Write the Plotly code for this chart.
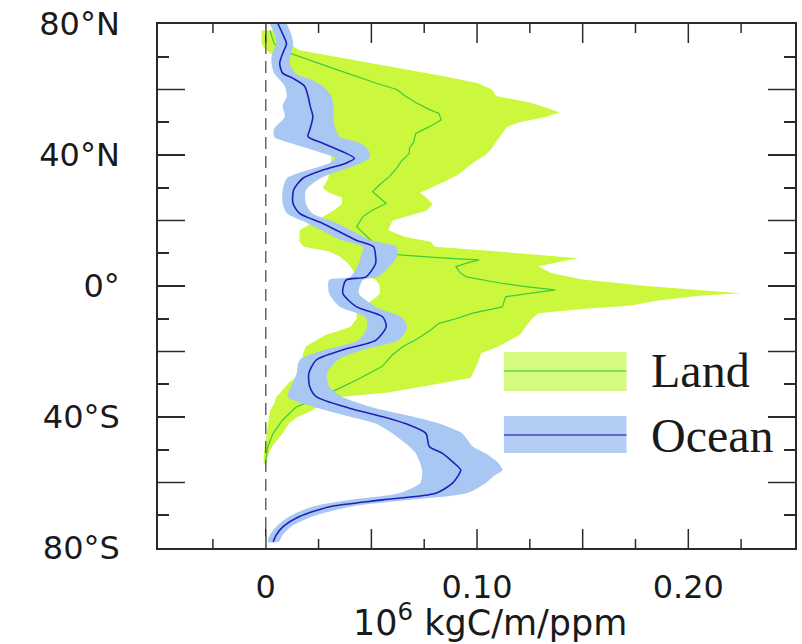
import plotly.graph_objects as go

# ---- Land uptake sensitivity (latitude profile) ----
land_lat = [78, 76, 74, 72, 70, 68, 66, 64, 62, 60, 58, 56, 54, 53, 51.5, 50, 48.5, 46, 44, 42,
            40, 38, 36, 34, 32, 30, 28.5, 27, 25, 23, 21.5, 20, 17, 15, 13.5, 12, 10.5, 9,
            8.5, 7.5, 6, 4, 2, 0, -1, -2.2, -3, -4.5, -6, -7, -8.3, -10, -12.5, -15, -18.5,
            -20.5, -24, -28, -29.5, -31, -32.5, -33.9, -36, -38, -40, -42, -45, -49, -52, -54, -55]
land_upper = [0.006, 0.009, 0.011, 0.016, 0.033, 0.050, 0.068, 0.085, 0.100, 0.107, 0.109, 0.125,
              0.135, 0.139, 0.132, 0.120, 0.114, 0.111, 0.109, 0.107, 0.104, 0.099, 0.095, 0.091,
              0.085, 0.078, 0.073, 0.076, 0.079, 0.076, 0.068, 0.060, 0.058, 0.066, 0.078, 0.080,
              0.110, 0.140, 0.148, 0.140, 0.129, 0.135, 0.150, 0.180, 0.200, 0.225, 0.205, 0.185,
              0.172, 0.150, 0.129, 0.126, 0.123, 0.120, 0.110, 0.102, 0.100, 0.097, 0.085, 0.072,
              0.058, 0.035, 0.026, 0.022, 0.015, 0.011, 0.008, 0.003, 0.001, 0.0003, 0.0]
land_lower = [-0.002, -0.002, -0.002, 0.000, 0.005, 0.006, 0.008, 0.010, 0.012, 0.015, 0.017, 0.020,
              0.022, 0.023, 0.024, 0.024, 0.023, 0.022, 0.025, 0.028, 0.031, 0.031, 0.030, 0.030,
              0.029, 0.027, 0.030, 0.036, 0.036, 0.032, 0.028, 0.024, 0.016, 0.016, 0.016, 0.018,
              0.030, 0.035, 0.036, 0.038, 0.040, 0.042, 0.052, 0.054, 0.054, 0.054, 0.053, 0.050,
              0.046, 0.043, 0.043, 0.043, 0.040, 0.028, 0.019, 0.0177, 0.017, 0.014, 0.011, 0.009,
              0.007, 0.005, 0.004, 0.002, 0.0015, 0.001, 0.0003, -0.0005, -0.001, -0.001, 0.0]

land_mean_lat = [78, 74, 72, 70, 66, 62, 60, 58, 56, 54, 52.7, 50.7, 48.5, 46.6, 44, 42, 40.5, 38,
                 36, 33.4, 31, 28.8, 27, 25.2, 23, 21.2, 18.1, 15, 12, 11, 10, 9.5, 8.5, 8, 7, 5.9,
                 4, 2.8, 1, -0.2, -1.2, -2.2, -3.3, -6.4, -8.3, -10, -11.4, -13.4, -16, -18.5, -21,
                 -24.6, -28.7, -31.8, -34.5, -36.9, -40.9, -45, -49, -53, -55]
land_mean = [0.002, 0.004, 0.0074, 0.016, 0.034, 0.052, 0.062, 0.066, 0.071, 0.077, 0.082, 0.083,
             0.077, 0.071, 0.070, 0.068, 0.068, 0.064, 0.062, 0.0585, 0.054, 0.0506, 0.054, 0.057,
             0.050, 0.046, 0.043, 0.048, 0.053, 0.055, 0.060, 0.063, 0.085, 0.101, 0.095, 0.090,
             0.092, 0.095, 0.110, 0.123, 0.137, 0.125, 0.1135, 0.112, 0.098, 0.090, 0.082, 0.078,
             0.072, 0.065, 0.060, 0.055, 0.043, 0.033, 0.024, 0.0145, 0.008, 0.0035, 0.001, 0.0, 0.0]

# ---- Ocean uptake sensitivity (latitude profile) ----
ocean_lat = [80, 77, 74, 71, 68, 65, 63.4, 61, 58, 55, 51.7, 48, 45.6, 43.6, 41, 39, 37.5, 35.4,
             32.9, 29.3, 25.2, 22.2, 19.1, 14, 12, 9, 6.9, 2.8, 1.8, -2.2, -6.3, -9.4, -12.4,
             -16.5, -19.5, -22.6, -26.7, -30.7, -33.8, -37.3, -39.9, -42, -45, -49, -51.1, -54,
             -56.2, -58, -60.2, -63.3, -65.3, -67.4, -70.4, -73.5, -76, -78.1]
ocean_mean = [0.0058, 0.008, 0.0098, 0.008, 0.0066, 0.008, 0.0129, 0.0184, 0.020, 0.021, 0.0223,
              0.021, 0.020, 0.027, 0.0365, 0.042, 0.038, 0.027, 0.0176, 0.0132, 0.0129, 0.016,
              0.027, 0.0428, 0.051, 0.052, 0.052, 0.0475, 0.038, 0.0365, 0.0428, 0.0553, 0.057,
              0.0522, 0.0365, 0.0239, 0.0204, 0.0208, 0.0239, 0.0396, 0.0553, 0.066, 0.0758,
              0.0774, 0.0836, 0.089, 0.0923, 0.091, 0.0884, 0.0805, 0.0553, 0.0302, 0.016,
              0.0082, 0.005, 0.0035]
ocean_lower = [0.002, 0.004, 0.005, 0.003, 0.0027, 0.004, 0.006, 0.009, 0.010, 0.008, 0.009, 0.004,
               0.004, 0.012, 0.025, 0.033, 0.030, 0.020, 0.010, 0.008, 0.008, 0.010, 0.020, 0.036,
               0.046, 0.045, 0.044, 0.040, 0.030, 0.030, 0.035, 0.047, 0.048, 0.044, 0.028, 0.016,
               0.0146, 0.012, 0.0104, 0.025, 0.040, 0.052, 0.060, 0.068, 0.071, 0.073, 0.074, 0.074,
               0.073, 0.063, 0.040, 0.022, 0.011, 0.005, 0.002, 0.001]
ocean_upper = [0.010, 0.012, 0.013, 0.012, 0.0113, 0.014, 0.020, 0.027, 0.031, 0.032, 0.032, 0.033,
               0.035, 0.045, 0.049, 0.049, 0.045, 0.036, 0.026, 0.019, 0.019, 0.022, 0.034, 0.050,
               0.062, 0.062, 0.060, 0.053, 0.046, 0.044, 0.052, 0.064, 0.067, 0.063, 0.046, 0.034,
               0.029, 0.030, 0.036, 0.052, 0.070, 0.082, 0.093, 0.098, 0.104, 0.110, 0.112, 0.108,
               0.104, 0.095, 0.068, 0.040, 0.022, 0.012, 0.008, 0.006]

# ---- Axis ticks ----
x_labeled = [0, 0.10, 0.20]
x_labels = ["0", "0.10", "0.20"]
x_unlabeled = [0.05, 0.15]
x_minor = [-0.025, 0.025, 0.075, 0.125, 0.175, 0.225]
y_labeled = [-80, -40, 0, 40, 80]
y_labels = ["80°S", "40°S", "0°", "40°N", "80°N"]
y_unlabeled = [-60, -20, 20, 60]
y_minor = [-70, -50, -30, -10, 10, 30, 50, 70]

X_RANGE = [-0.051, 0.2505]
Y_RANGE = [-80, 80]

WIDTH, HEIGHT = 802, 644
MARGIN = dict(l=158, r=5, t=24, b=96)

LAND_FILL = "#cbf83c"
LAND_LINE = "#3ccc3c"
OCEAN_FILL = "#a9c7f3"
OCEAN_LINE = "#2020b8"
AXIS_COLOR = "#2a2a2a"

fig = go.Figure()

# land uncertainty band
fig.add_trace(go.Scatter(
    x=land_upper + land_lower[::-1],
    y=land_lat + land_lat[::-1],
    fill="toself", fillcolor=LAND_FILL, mode="lines",
    line=dict(width=0, color=LAND_FILL), hoverinfo="skip", showlegend=False))
# land best estimate
fig.add_trace(go.Scatter(
    x=land_mean, y=land_mean_lat, mode="lines",
    line=dict(color=LAND_LINE, width=1.2), showlegend=False))
# ocean uncertainty band
fig.add_trace(go.Scatter(
    x=ocean_upper + ocean_lower[::-1],
    y=ocean_lat + ocean_lat[::-1],
    fill="toself", fillcolor=OCEAN_FILL, mode="lines",
    line=dict(width=0, color=OCEAN_FILL, shape="spline", smoothing=0.7),
    hoverinfo="skip", showlegend=False))
# ocean best estimate
fig.add_trace(go.Scatter(
    x=ocean_mean, y=ocean_lat, mode="lines",
    line=dict(color=OCEAN_LINE, width=1.6, shape="spline", smoothing=0.7), showlegend=False))

# inward tick marks on all four frame edges that carry no label, built from the tick lists
deg_per_px = (Y_RANGE[1] - Y_RANGE[0]) / (HEIGHT - MARGIN["t"] - MARGIN["b"])
val_per_px = (X_RANGE[1] - X_RANGE[0]) / (WIDTH - MARGIN["l"] - MARGIN["r"])
tick_x, tick_y = [], []
for vals, length in ((x_labeled + x_unlabeled, 19), (x_minor, 9)):
    for v in vals:
        tick_x += [v, v, None, v, v, None]
        tick_y += [Y_RANGE[0], Y_RANGE[0] + length * deg_per_px, None,
                   Y_RANGE[1], Y_RANGE[1] - length * deg_per_px, None]
for v in y_unlabeled:
    tick_x += [X_RANGE[0], X_RANGE[0] + 27 * val_per_px, None,
               X_RANGE[1], X_RANGE[1] - 27 * val_per_px, None]
    tick_y += [v, v, None, v, v, None]
fig.add_trace(go.Scatter(x=tick_x, y=tick_y, mode="lines", line=dict(color=AXIS_COLOR, width=1.5),
                         hoverinfo="skip", showlegend=False, cliponaxis=False))

# zero reference line
fig.add_shape(type="line", xref="x", yref="paper", x0=0, x1=0, y0=0, y1=1,
              line=dict(color="#666666", width=1.5, dash="12px,7px"), layer="above")

# legend keys
legend_items = [
    ("Land", "#d5fa80", "#66d84a", 0.2996, 0.3740, 0.3378),
    ("Ocean", "#b3cdf5", "#4444cc", 0.1813, 0.2519, 0.2156),
]
for name, fcol, lcol, y0, y1, ym in legend_items:
    fig.add_shape(type="rect", xref="paper", yref="paper", x0=0.543, x1=0.7355, y0=y0, y1=y1,
                  fillcolor=fcol, line=dict(width=0), layer="above")
    fig.add_shape(type="line", xref="paper", yref="paper", x0=0.543, x1=0.7355, y0=ym, y1=ym,
                  line=dict(color=lcol, width=1.5), layer="above")
    fig.add_annotation(text=name, xref="paper", yref="paper", x=0.771, y=ym,
                       xanchor="left", yanchor="middle", showarrow=False,
                       font=dict(family="Liberation Serif", size=48, color="#1a1a1a"))

# x-axis title
fig.add_annotation(text="10<sup>6</sup> kgC/m/ppm", xref="paper", yref="paper",
                   x=0.521, y=-0.09, xanchor="center", yanchor="top", showarrow=False,
                   font=dict(family="DejaVu Sans", size=35, color="#1a1a1a"))

tick_font = dict(family="DejaVu Sans", size=32, color="#1a1a1a")
common = dict(showline=True, linecolor=AXIS_COLOR, linewidth=1.5, mirror="allticks",
              showgrid=False, zeroline=False)

fig.update_layout(
    width=WIDTH, height=HEIGHT, margin=MARGIN,
    plot_bgcolor="white", paper_bgcolor="white",
    xaxis=dict(range=X_RANGE, tickmode="array", tickvals=x_labeled, ticktext=x_labels,
               ticks="", tickfont=tick_font, ticklabelstandoff=10, **common),
    yaxis=dict(range=Y_RANGE, tickmode="array", tickvals=y_labeled, ticktext=y_labels,
               ticks="inside", ticklen=27, tickwidth=1.5, tickcolor=AXIS_COLOR,
               tickfont=tick_font, ticklabelstandoff=30,
               minor=dict(tickmode="array", tickvals=y_minor, ticks="inside", ticklen=11,
                          tickwidth=1.5, tickcolor=AXIS_COLOR),
               **common),
)

fig.write_html("out.html")
